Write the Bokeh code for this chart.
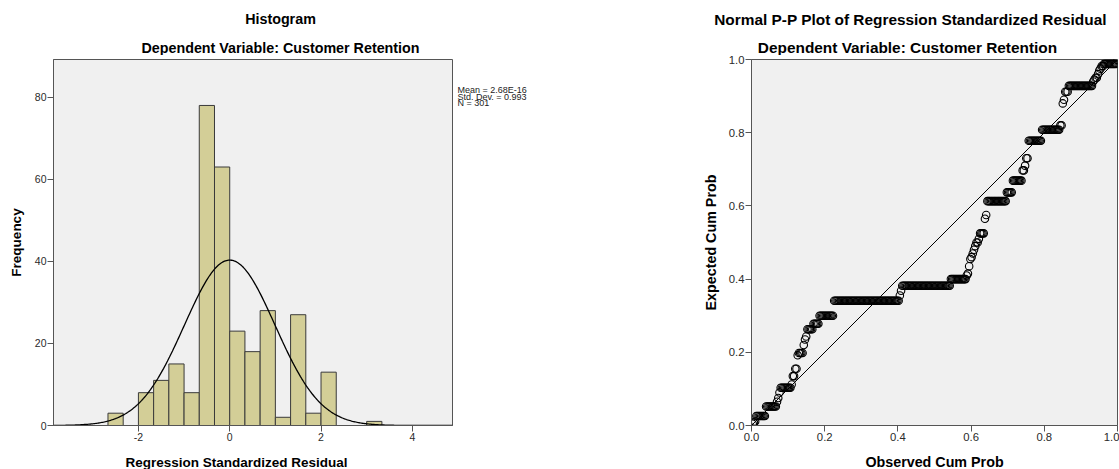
import numpy as np
from bokeh.plotting import figure
from bokeh.models import Range1d, FixedTicker, NumeralTickFormatter, Slope
from bokeh.layouts import row, column
from bokeh.core.properties import value
from bokeh.embed import file_html
from bokeh.resources import INLINE

FONT = "Liberation Sans"

# ---------------- data ----------------
# Histogram of regression standardized residuals (bins of width 1/3)
bin_left = [-2.6667, -2.0, -1.6667, -1.3333, -1.0, -0.6667, -0.3333, 0.0,
            0.3333, 0.6667, 1.0, 1.3333, 1.6667, 2.0, 3.0]
freq = [3, 8, 11, 15, 8, 78, 63, 23, 18, 28, 2, 27, 3, 13, 1]
bin_width = 1.0 / 3.0
resid_mean = 2.68e-16
resid_sd = 0.993
n_obs = 301
hist_x_ticks = [-2, 0, 2, 4]
hist_y_ticks = [0, 20, 40, 60, 80]
stats_lines = ["Mean = 2.68E-16", "Std. Dev. = 0.993", "N = 301"]

# Normal P-P plot: expected cum prob levels (sorted) and number of tied points at each level
pp_expected = [0.005, 0.008, 0.011, 0.026, 0.052, 0.065, 0.075,
               0.09, 0.103, 0.112, 0.135, 0.155,
               0.192, 0.198, 0.22, 0.235, 0.243,
               0.263, 0.278, 0.30, 0.341, 0.355, 0.368,
               0.382, 0.40, 0.41, 0.415, 0.435, 0.455, 0.46, 0.47, 0.48, 0.49, 0.50,
               0.51, 0.525, 0.565, 0.575, 0.613,
               0.637, 0.669, 0.697, 0.71, 0.73,
               0.778, 0.808, 0.82,
               0.88, 0.89,
               0.912, 0.928, 0.94, 0.945, 0.95,
               0.96, 0.97, 0.975,
               0.982, 0.988,
               0.999]
pp_run = [1, 1, 1, 8, 9, 1, 1,
          1, 9, 1, 2, 2,
          1, 4, 1, 1, 1,
          5, 5, 12, 54, 1, 1,
          40, 13, 1, 1, 1, 1, 1, 1, 1, 1, 2,
          1, 4, 1, 1, 16,
          5, 8, 2, 1, 2,
          11, 15, 2,
          1, 1,
          3, 20, 1, 1, 2,
          1, 1, 1,
          2, 11,
          1]
pp_ticks = [0.0, 0.2, 0.4, 0.6, 0.8, 1.0]

hist_title = "Histogram"
subtitle = "Dependent Variable: Customer Retention"
pp_title = "Normal P-P Plot of Regression Standardized Residual"
hist_xlabel = "Regression Standardized Residual"
hist_ylabel = "Frequency"
pp_xlabel = "Observed Cum Prob"
pp_ylabel = "Expected Cum Prob"


def pixel_fig(x0, x1, y0, y1):
    """A blank figure whose data space is page pixels (y growing downward)."""
    f = figure(width=x1 - x0, height=y1 - y0, x_range=Range1d(x0, x1), y_range=Range1d(y1, y0),
               x_axis_type=None, y_axis_type=None, output_backend="svg", toolbar_location=None,
               min_border=0, outline_line_color=None)
    f.background_fill_color = "white"
    f.border_fill_color = "white"
    return f


def put_text(f, x, y, text, size, bold=False, align="center", color="black"):
    f.text(x=[x], y=[y], text=[text], text_font=value(FONT), text_font_size=value(f"{size}px"),
           text_font_style="bold" if bold else "normal", text_align=align,
           text_baseline="middle", text_color=color)


def style_axes(p, tick_size):
    for ax in (p.xaxis, p.yaxis):
        ax.axis_line_color = "#555555"
        ax.axis_line_width = 1
        ax.major_tick_line_color = "#555555"
        ax.major_tick_out = 6
        ax.major_tick_in = 0
        ax.minor_tick_out = 0
        ax.minor_tick_in = 0
        ax.major_label_standoff = 1
        ax.major_label_text_font = FONT
        ax.major_label_text_font_size = f"{tick_size}px"
        ax.major_label_text_color = "#2a2a2a"
        ax.axis_label_text_font = FONT
        ax.axis_label_text_font_style = "bold"
        ax.axis_label_text_color = "black"
    p.xgrid.visible = False
    p.ygrid.visible = False
    p.outline_line_color = "#555555"
    p.outline_line_width = 1
    p.background_fill_color = "#F0F0F0"
    p.border_fill_color = "white"


# ---------------- header (titles) ----------------
header = pixel_fig(0, 1119, 0, 55)
put_text(header, 280, 18, hist_title, 14.3, bold=True)
put_text(header, 280, 47, subtitle, 14.3, bold=True)
put_text(header, 910, 19, pp_title, 15.4, bold=True)
put_text(header, 907, 47, subtitle, 15.4, bold=True)

# ---------------- histogram ----------------
p1 = figure(width=456, height=392, x_range=Range1d(-3.86, 4.88), y_range=Range1d(0, 89.2),
            output_backend="svg", toolbar_location=None,
            min_border_left=53, min_border_right=4, min_border_top=4, min_border_bottom=22)
style_axes(p1, 10.5)
p1.xaxis.ticker = FixedTicker(ticks=hist_x_ticks)
p1.xaxis.major_label_overrides = {t: str(t) for t in hist_x_ticks}
p1.yaxis.ticker = FixedTicker(ticks=hist_y_ticks)
p1.yaxis.axis_label = hist_ylabel
p1.yaxis.axis_label_text_font_size = "13.5px"
p1.yaxis.axis_label_standoff = 8

lefts = np.array(bin_left)
p1.quad(left=lefts, right=lefts + bin_width, bottom=0, top=freq,
        fill_color="#D3CE97", line_color="#3a3a3a", line_width=1)

xs = np.linspace(-3.86, 4.88, 400)
ys = n_obs * bin_width * np.exp(-0.5 * ((xs - resid_mean) / resid_sd) ** 2) / (resid_sd * np.sqrt(2 * np.pi))
p1.line(xs, ys, line_color="black", line_width=1.3)

# ---------------- stats box ----------------
stats = pixel_fig(456, 560, 55, 447)
for i, t in enumerate(stats_lines):
    put_text(stats, 457, 88 + 7 * i, t, 9, align="left", color="#222222")

# ---------------- P-P plot ----------------
p2 = figure(width=559, height=392, x_range=Range1d(0, 1), y_range=Range1d(0, 1),
            output_backend="svg", toolbar_location=None,
            min_border_left=191, min_border_right=2, min_border_top=4, min_border_bottom=21)
style_axes(p2, 11.3)
p2.xaxis.ticker = FixedTicker(ticks=pp_ticks)
p2.yaxis.ticker = FixedTicker(ticks=pp_ticks)
p2.xaxis.formatter = NumeralTickFormatter(format="0.0")
p2.yaxis.formatter = NumeralTickFormatter(format="0.0")
p2.yaxis.axis_label = pp_ylabel
p2.yaxis.axis_label_text_font_size = "14.3px"
p2.yaxis.axis_label_standoff = 7

y_pts = np.repeat(pp_expected, pp_run)
x_pts = np.arange(1, len(y_pts) + 1) / len(y_pts)
p2.scatter(x_pts, y_pts, marker="circle", size=7.5, fill_color=None,
           line_color="black", line_width=1.1, line_alpha=1.0)
p2.add_layout(Slope(gradient=1, y_intercept=0, line_color="black", line_width=1))

# ---------------- footer (x axis labels) ----------------
footer = pixel_fig(0, 1119, 447, 469)
put_text(footer, 236, 462, hist_xlabel, 13.5, bold=True)
put_text(footer, 934, 461, pp_xlabel, 14.3, bold=True)

layout = column(header, row(p1, stats, p2), footer)
open("out.html", "w").write(file_html(layout, INLINE))
